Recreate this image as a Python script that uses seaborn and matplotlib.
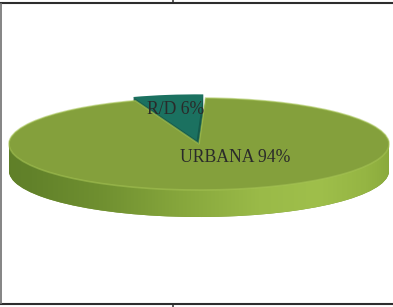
import numpy as np
import matplotlib
matplotlib.use("Agg")
import matplotlib.pyplot as plt
import seaborn as sns
from matplotlib.colors import LinearSegmentedColormap
from matplotlib.lines import Line2D

# ---- data ----
categories = ["R/D", "URBANA"]
values = [6, 94]
labels = [f"{c} {v}%" for c, v in zip(categories, values)]

sns.set_theme(style="white")
plt.rcParams['font.family'] = ['Liberation Serif', 'DejaVu Serif']

W, H = 393, 307
fig = plt.figure(figsize=(W / 100, H / 100), dpi=100)
ax = fig.add_axes([0, 0, 1, 1])

cx, cy, rx, ry = 199, 144, 190, 46      # pixel geometry of the top face
depth = 27 / ry                          # side thickness in data units
start = 88
explode = [0.08, 0]

top_colors = ["#1b7160", "#84a03c"]
side_colors = ["#145a4c", "#7b9a36"]
side_cmap = LinearSegmentedColormap.from_list(
    "side", [(0.0, "#5f7f28"), (0.08, "#62822a"), (0.25, "#6f8f30"),
             (0.45, "#86a63c"), (0.65, "#9aba48"), (0.80, "#9fbf4b"),
             (0.92, "#95b543"), (1.0, "#86a63a")])
grad = np.linspace(0, 1, 256).reshape(1, -1)

# side: stacked layers of the same pie, shifted downward
for t in np.linspace(depth, 0.02, 26):
    wedges, _ = ax.pie(values, startangle=start, explode=explode,
                       center=(0, -t), colors=side_colors,
                       wedgeprops=dict(linewidth=0))
    im = ax.imshow(grad, cmap=side_cmap, aspect="auto",
                   extent=(-1.05, 1.05, -t - 1.1, -t + 1.1), zorder=1.5)
    im.set_clip_path(wedges[1])

# top face
wedges, _ = ax.pie(values, startangle=start, explode=explode,
                   colors=top_colors, wedgeprops=dict(linewidth=0))
for w in wedges:
    w.set_zorder(3)

# light bevel rim along the top face of the large slice
rim, _ = ax.pie(values, startangle=start, explode=explode,
                colors=["none", "none"],
                wedgeprops=dict(linewidth=1.2, edgecolor="#a6c455"))
rim[0].set_visible(False)
rim[1].set_zorder(3.2)
rim[1].set_alpha(0.55)

txt = dict(ha="center", va="center", fontsize=12.7, color="#2a2a2a", zorder=5)
ax.text((176 - cx) / rx, (cy - 110) / ry, labels[0], **txt)
ax.text((235 - cx) / rx, (cy - 158) / ry, labels[1], **txt)

ax.set_aspect("auto")
ax.set_xlim(-cx / rx, (W - cx) / rx)
ax.set_ylim((cy - H) / ry, cy / ry)
ax.axis("off")

# frame lines
def fl(x0, y0, x1, y1, lw, c):
    fig.add_artist(Line2D([x0 / W, x1 / W], [1 - y0 / H, 1 - y1 / H],
                          transform=fig.transFigure, lw=lw, color=c,
                          solid_capstyle="butt"))

fl(0, 3, W, 3, 1.5, "#2d2d2d")
fl(0, 303.5, W, 303.5, 1.5, "#2d2d2d")
fl(1, 3, 1, 303.5, 1.2, "#707070")
fl(173, 0, 173, 3, 1.1, "#2d2d2d")
fl(173, 303.5, 173, 307, 1.1, "#2d2d2d")

fig.savefig("out.png", dpi=100)
